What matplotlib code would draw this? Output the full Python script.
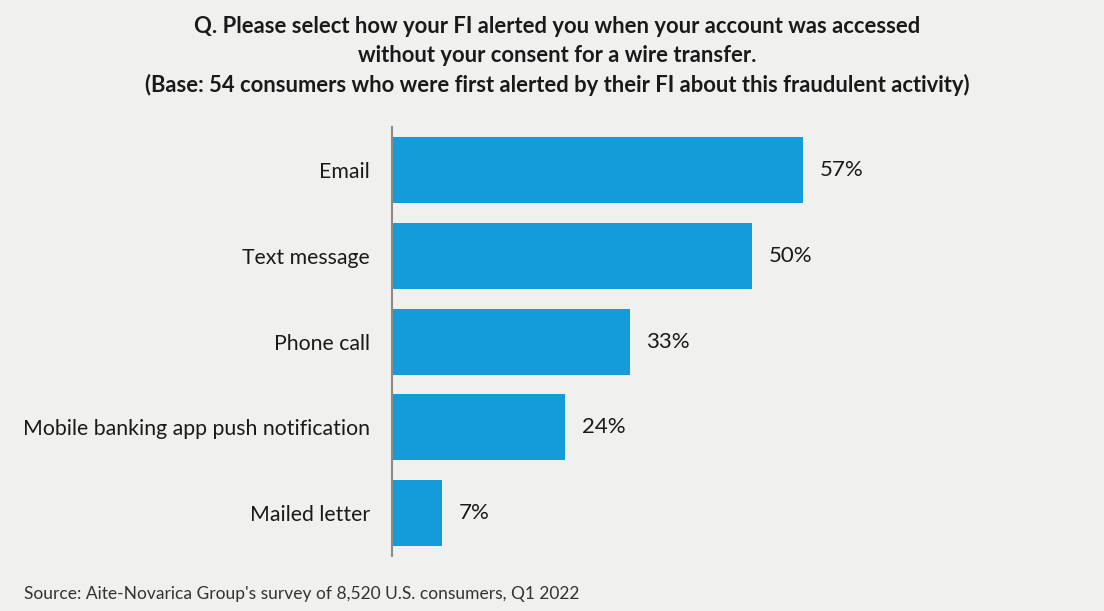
import matplotlib.pyplot as plt

plt.rcParams['font.family'] = ['Lato', 'DejaVu Sans']

categories = ['Email', 'Text message', 'Phone call',
              'Mobile banking app push notification', 'Mailed letter']
values = [57, 50, 33, 24, 7]

bg = '#f0f0ef'
bar_color = '#139cd9'

fig = plt.figure(figsize=(11.04, 6.11), dpi=100)
fig.patch.set_facecolor(bg)
ax = fig.add_axes([0.3551, 0.090, 0.653, 0.702])
ax.set_facecolor(bg)

ypos = list(range(len(categories)))
ax.barh(ypos, values, height=0.77, color=bar_color)
for y, v in zip(ypos, values):
    ax.text(v + 2.3, y, f'{v}%', va='center', ha='left', fontsize=16, color='#1a1a1a')

ax.set_yticks(ypos)
ax.set_yticklabels(categories, fontsize=15.3, color='#1a1a1a')
ax.tick_params(axis='y', length=0, pad=16)
ax.set_xticks([])
ax.set_xlim(0, 100)
ax.set_ylim(4.5, -0.5)
for s in ['top', 'right', 'bottom']:
    ax.spines[s].set_visible(False)
ax.spines['left'].set_color('#8a8a8a')
ax.spines['left'].set_linewidth(1.5)

title = ('Q. Please select how your FI alerted you when your account was accessed\n'
         'without your consent for a wire transfer.\n'
         '(Base: 54 consumers who were first alerted by their FI about this fraudulent activity)')
fig.text(0.5045, 0.973, title, ha='center', va='top', fontsize=15.8, fontweight='bold',
         linespacing=1.45, color='#1a1a1a')

fig.text(0.022, 0.028, "Source: Aite-Novarica Group's survey of 8,520 U.S. consumers, Q1 2022",
         ha='left', va='center', fontsize=12.5, color='#333333')

fig.savefig('out.png', dpi=100, facecolor=bg)
